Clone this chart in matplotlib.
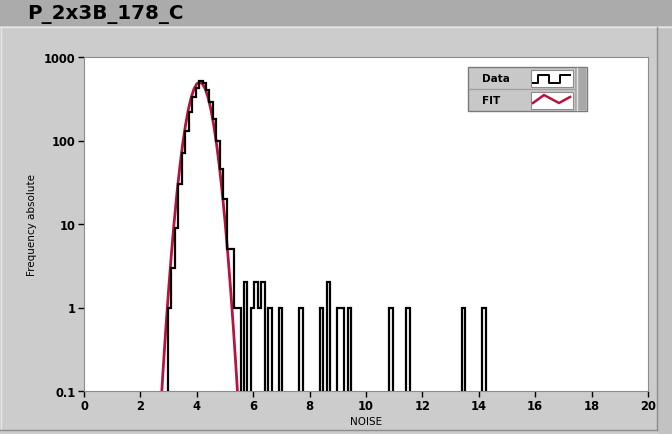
import numpy as np
import matplotlib.pyplot as plt
from matplotlib.patches import Rectangle
from matplotlib.lines import Line2D

TITLE = 'P_2x3B_178_C'
X_LABEL = 'NOISE'
Y_LABEL = 'Frequency absolute'

# histogram: uniform bins starting at BIN_START
BIN_START = 2.98
BIN_WIDTH = 0.1225
COUNTS = [1, 3, 9, 30, 70, 130, 220, 330, 430, 510,
          490, 400, 290, 180, 100, 45, 20, 5, 5, 1,
          1, 0, 2, 0, 1, 2, 1, 2, 0, 1,
          0, 0, 1, 0, 0, 0, 0, 0, 1, 0,
          0, 0, 0, 0, 1, 0, 2, 0, 0, 1,
          1, 0, 1, 0, 0, 0, 0, 0, 0, 0,
          0, 0, 0, 0, 1, 0, 0, 0, 0, 1,
          0, 0, 0, 0, 0, 0, 0, 0, 0, 0,
          0, 0, 0, 0, 0, 1, 0, 0, 0, 0,
          0, 1]

# fit curve, points
FIT_X = [2.6, 2.7, 2.8, 2.9, 3.0, 3.1, 3.2, 3.3, 3.4, 3.5, 3.6, 3.7, 3.8,
         3.9, 4.0, 4.1, 4.2, 4.3, 4.4, 4.5, 4.6, 4.7, 4.8, 4.9, 5.0, 5.1,
         5.2, 5.3, 5.4, 5.5, 5.6]
FIT_Y = [0.012, 0.047, 0.168, 0.55, 1.63, 4.4, 10.8, 24.2, 49, 91, 153,
         235, 327, 414, 477, 500, 477, 414, 327, 235, 153, 91, 49, 24.2,
         10.8, 4.4, 1.63, 0.55, 0.168, 0.047, 0.012]

X_TICKS = [0, 2, 4, 6, 8, 10, 12, 14, 16, 18, 20]
Y_TICKS = [0.1, 1, 10, 100, 1000]
Y_TICK_LABELS = ['0.1', '1', '10', '100', '1000']

W, H = 672, 435
FIT_COLOR = '#b8123f'


def px(x, y):
    # pixel position (top-left origin) -> figure fraction
    return x / W, 1 - y / H


def fig_rect(fig, x0, y0, x1, y1, **kw):
    fx, fy = px(x0, y1)
    fig.patches.append(Rectangle((fx, fy), (x1 - x0) / W, (y1 - y0) / H,
                                 transform=fig.transFigure, **kw))


def fig_line(fig, xs, ys, **kw):
    fx = [x / W for x in xs]
    fy = [1 - y / H for y in ys]
    fig.lines.append(Line2D(fx, fy, transform=fig.transFigure, **kw))


def main():
    fig = plt.figure(figsize=(W / 100, H / 100), dpi=100)
    fig.patch.set_facecolor('#cccccc')

    # title band and panel bevel
    fig_rect(fig, 0, 0, W, 27, facecolor='#ababab', edgecolor='none')
    fig_line(fig, [0, W], [27.5, 27.5], color='#e6e6e6', lw=1)
    fig_line(fig, [1, 1], [28, 431], color='#e6e6e6', lw=1)
    fig_line(fig, [657, 657], [28, 431], color='#8c8c8c', lw=1)
    fig_line(fig, [0, 657], [431, 431], color='#8c8c8c', lw=1)
    fig_rect(fig, 658, 28, W, H, facecolor='#c2c2c2', edgecolor='none')
    fig.text(27 / W, 1 - 14 / H, TITLE, fontsize=14.3, fontweight='bold',
             va='center', ha='left')

    ax = fig.add_axes([84 / W, 1 - 392 / H, (648 - 84) / W, (392 - 58) / H])
    ax.set_facecolor('white')

    edges = BIN_START + BIN_WIDTH * np.arange(len(COUNTS) + 1)
    counts = np.array(COUNTS, dtype=float)
    counts[counts <= 0] = 1e-3
    ax.stairs(counts, edges, baseline=1e-3, color='black', lw=1.6, zorder=3)
    ax.plot(FIT_X, FIT_Y, color=FIT_COLOR, lw=2.0, zorder=2)

    ax.set_yscale('log')
    ax.set_xlim(0, 20)
    ax.set_ylim(0.1, 1000)
    ax.set_xticks(X_TICKS)
    ax.set_xticklabels([str(t) for t in X_TICKS])
    ax.set_yticks(Y_TICKS)
    ax.set_yticklabels(Y_TICK_LABELS)
    ax.minorticks_off()
    ax.tick_params(direction='out', length=4, width=1, pad=2,
                   labelsize=8.3)
    for lab in ax.get_xticklabels() + ax.get_yticklabels():
        lab.set_fontweight('bold')
    for sp in ax.spines.values():
        sp.set_color('#8c8c8c')
        sp.set_linewidth(0.8)

    ax.set_xlabel(X_LABEL, fontsize=7.5, labelpad=3)
    ax.set_ylabel(Y_LABEL, fontsize=7.5, labelpad=5)

    # legend panel drawn by hand, LabVIEW style
    fig_rect(fig, 468, 68, 587, 112, facecolor='#c8c8c8',
             edgecolor='#7a7a7a', lw=1, zorder=5)
    fig_rect(fig, 575, 69, 586, 111, facecolor='#a8a8a8',
             edgecolor='none', zorder=6)
    fig_line(fig, [577, 577], [69, 111], color='#e0e0e0', lw=1, zorder=7)
    fig_line(fig, [469, 575], [90, 90], color='#a0a0a0', lw=1, zorder=6)
    fig_rect(fig, 531, 71, 573, 88, facecolor='white',
             edgecolor='#8c8c8c', lw=0.8, zorder=6)
    fig_rect(fig, 531, 93, 573, 110, facecolor='white',
             edgecolor='#8c8c8c', lw=0.8, zorder=6)
    fig.text(482 / W, 1 - 79 / H, 'Data', fontsize=7.5, fontweight='bold',
             va='center', ha='left', zorder=7)
    fig.text(482 / W, 1 - 101 / H, 'FIT', fontsize=7.5, fontweight='bold',
             va='center', ha='left', zorder=7)
    fig_line(fig, [533, 538, 538, 549, 549, 560, 560, 570],
             [84, 84, 76, 76, 84, 84, 76, 76], color='black', lw=1.4, zorder=7)
    fig_line(fig, [533, 544, 559, 570], [104, 96, 104, 98],
             color=FIT_COLOR, lw=1.8, zorder=7)

    fig.savefig('out.png', dpi=100, facecolor=fig.get_facecolor())


if __name__ == '__main__':
    main()
